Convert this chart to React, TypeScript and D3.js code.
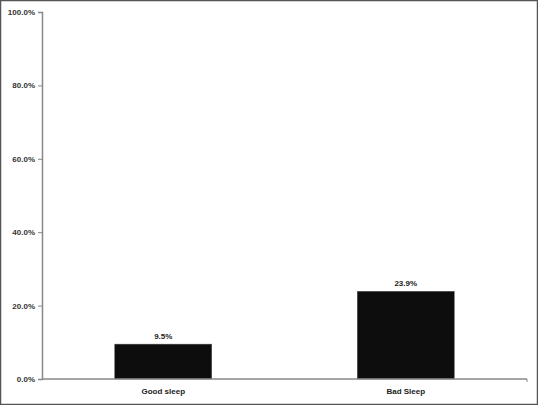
import { useEffect, useRef } from "react";
import * as d3 from "d3";

const categories = ["Good sleep", "Bad Sleep"];
const values = [9.5, 23.9];
const yTicks = [0, 20, 40, 60, 80, 100];

export default function App() {
  const ref = useRef<SVGSVGElement>(null);

  useEffect(() => {
    const width = 538;
    const height = 405;
    const left = 42;
    const right = 527;
    const top = 12;
    const bottom = 379;
    const font = "'Liberation Sans', Arial, sans-serif";

    const svg = d3.select(ref.current);
    svg.selectAll("*").remove();

    // outer frame
    svg.append("rect")
      .attr("x", 0.5)
      .attr("y", 0.5)
      .attr("width", width - 1)
      .attr("height", height - 1)
      .attr("fill", "#fff")
      .attr("stroke", "#555")
      .attr("stroke-width", 1.5);

    const x = d3.scaleBand()
      .domain(categories)
      .range([left, right])
      .paddingInner(0.6)
      .paddingOuter(0.3);

    const y = d3.scaleLinear()
      .domain([0, 100])
      .range([bottom, top]);

    // y axis
    const yAxis = svg.append("g")
      .attr("transform", `translate(${left},0)`)
      .call(d3.axisLeft(y).tickValues(yTicks).tickSize(4).tickFormat(d => `${(+d).toFixed(1)}%`));
    yAxis.select(".domain").attr("stroke", "#888").attr("stroke-width", 1.5);
    yAxis.selectAll(".tick line").attr("stroke", "#888");
    yAxis.selectAll(".tick text")
      .attr("x", -7)
      .attr("fill", "#333")
      .attr("font-family", font)
      .attr("font-size", 8)
      .attr("font-weight", "bold");

    // bars
    svg.selectAll(".bar")
      .data(values)
      .enter()
      .append("rect")
      .attr("class", "bar")
      .attr("x", (d, i) => x(categories[i])!)
      .attr("y", d => y(d))
      .attr("width", x.bandwidth())
      .attr("height", d => bottom - y(d))
      .attr("fill", "#0d0d0d")
      .attr("stroke", "#555")
      .attr("stroke-width", 0.5);

    // x axis
    svg.append("line")
      .attr("x1", left)
      .attr("x2", right)
      .attr("y1", bottom)
      .attr("y2", bottom)
      .attr("stroke", "#888")
      .attr("stroke-width", 1.5);
    svg.append("line")
      .attr("x1", right)
      .attr("x2", right)
      .attr("y1", bottom)
      .attr("y2", bottom + 3)
      .attr("stroke", "#888");

    // value labels
    svg.selectAll(".val")
      .data(values)
      .enter()
      .append("text")
      .attr("x", (d, i) => x(categories[i])! + x.bandwidth() / 2)
      .attr("y", d => y(d) - 5)
      .attr("text-anchor", "middle")
      .attr("fill", "#222")
      .attr("font-family", font)
      .attr("font-size", 8)
      .attr("font-weight", "bold")
      .text(d => `${d.toFixed(1)}%`);

    // category labels
    svg.selectAll(".cat")
      .data(categories)
      .enter()
      .append("text")
      .attr("x", d => x(d)! + x.bandwidth() / 2)
      .attr("y", bottom + 15)
      .attr("text-anchor", "middle")
      .attr("fill", "#222")
      .attr("font-family", font)
      .attr("font-size", 8)
      .attr("font-weight", "bold")
      .text(d => d);
  }, []);

  return (
    <div style={{ position: "absolute", left: 0, top: 0 }}>
      <svg ref={ref} width={538} height={405} style={{ display: "block" }}></svg>
    </div>
  );
}
